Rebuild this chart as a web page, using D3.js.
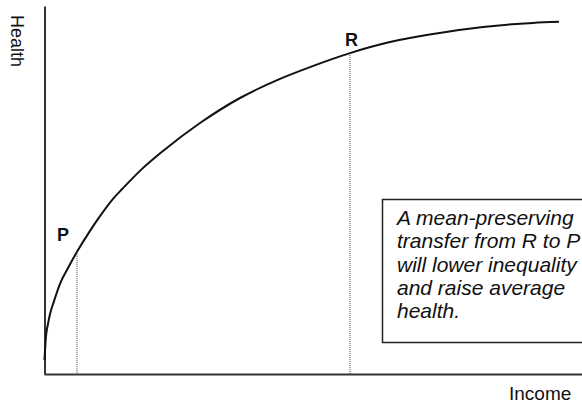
<!DOCTYPE html>
<html>
<head>
<meta charset="utf-8">
<script src="https://cdn.jsdelivr.net/npm/d3@7"></script>
<style>
  html, body { margin: 0; padding: 0; background: #fff; }
  svg { display: block; }
  text { font-family: "Liberation Sans", Arial, sans-serif; fill: #111; }
</style>
</head>
<body>
<svg id="chart" width="582" height="404"></svg>
<script>
// Curve data (income, health)
const income = [0.09, 0.37, 0.74, 1.12, 1.86, 2.97, 4.46, 6.13, 8.55, 10.41, 12.83, 14.68, 17.84, 22.12, 29.0, 36.43, 43.87, 49.44, 56.88, 64.31, 72.3, 81.6, 90.89, 95.72];
const health = [3.8, 10.3, 13.6, 16.3, 19.8, 24.5, 28.8, 33.2, 38.9, 42.9, 47.6, 50.5, 55.2, 60.6, 68.2, 75.0, 80.2, 83.4, 87.2, 90.2, 92.4, 94.3, 95.4, 95.7];

// Marked points
const pointLabels = ["P", "R"];
const pointIncome = [6.13, 56.88];
const pointHealth = [33.2, 87.2];

// Texts
const xTitle = "Income";
const yTitle = "Health";
const noteLines = ["A mean-preserving", "transfer from R to P", "will lower inequality", "and raise average", "health."];

const svg = d3.select("#chart");
const x = d3.scaleLinear().domain([0, 100]).range([44, 582]);
const y = d3.scaleLinear().domain([0, 100]).range([374, 6]);

// Axes (lines only, no ticks)
const xAxis = svg.append("g").attr("transform", `translate(0,${y(0)})`)
  .call(d3.axisBottom(x).tickValues([]).tickSizeOuter(0));
xAxis.select(".domain").attr("stroke", "#333").attr("stroke-width", 2);
const yAxis = svg.append("g").attr("transform", `translate(${x(0) + 0.5},0)`)
  .call(d3.axisLeft(y).tickValues([]).tickSizeOuter(0));
yAxis.select(".domain").attr("stroke", "#333").attr("stroke-width", 2);

// Curve
const pts = income.map((d, i) => [d, health[i]]);
svg.append("path")
  .datum(pts)
  .attr("fill", "none")
  .attr("stroke", "#111")
  .attr("stroke-width", 2)
  .attr("d", d3.line().x(d => x(d[0])).y(d => y(d[1])).curve(d3.curveMonotoneX));

// Dotted drop lines and labels
const labelOffsets = [[-20, -11], [-5, -7]];
pointLabels.forEach((lab, i) => {
  svg.append("line")
    .attr("x1", x(pointIncome[i])).attr("x2", x(pointIncome[i]))
    .attr("y1", y(pointHealth[i])).attr("y2", y(0))
    .attr("stroke", "#444").attr("stroke-width", 1)
    .attr("stroke-dasharray", "1,1");
  svg.append("text")
    .attr("x", x(pointIncome[i]) + labelOffsets[i][0])
    .attr("y", y(pointHealth[i]) + labelOffsets[i][1])
    .attr("font-size", 18).attr("font-weight", "bold")
    .text(lab);
});

// Axis titles
svg.append("text")
  .attr("x", 509).attr("y", 400)
  .attr("font-size", 19)
  .text(xTitle);
svg.append("text")
  .attr("transform", "translate(11,15) rotate(90)")
  .attr("font-size", 18)
  .text(yTitle);

// Note box
svg.append("rect")
  .attr("x", 382.5).attr("y", 199.5)
  .attr("width", 240).attr("height", 143)
  .attr("fill", "#fff").attr("stroke", "#222").attr("stroke-width", 1.5);
const note = svg.append("text")
  .attr("font-size", 21).attr("font-style", "italic");
noteLines.forEach((t, i) => {
  note.append("tspan").attr("x", 397).attr("y", 225 + i * 23.3).text(t);
});
</script>
</body>
</html>
